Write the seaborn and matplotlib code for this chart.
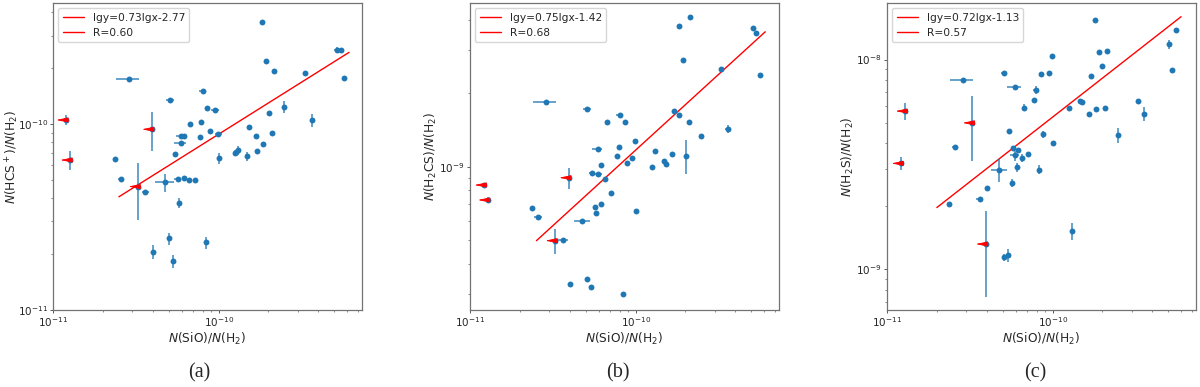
import numpy as np
import pandas as pd
import matplotlib
matplotlib.use("Agg")
import matplotlib.pyplot as plt
from matplotlib.patches import FancyArrowPatch
import seaborn as sns

# N(SiO)/N(H2) vs three sulphur species
x_a = [1.20e-11, 1.27e-11, 2.36e-11, 2.56e-11, 2.86e-11, 3.27e-11, 3.61e-11, 3.95e-11, 4.00e-11, 4.75e-11,
       5.09e-11, 5.05e-11, 5.33e-11, 5.46e-11, 5.67e-11, 5.73e-11, 5.89e-11, 5.89e-11, 6.20e-11, 6.20e-11,
       6.60e-11, 6.76e-11, 7.16e-11, 7.74e-11, 7.88e-11, 8.00e-11, 8.34e-11, 8.57e-11, 8.85e-11, 9.54e-11,
       9.95e-11, 1.00e-10, 1.25e-10, 1.28e-10, 1.31e-10, 1.49e-10, 1.53e-10, 1.68e-10, 1.71e-10, 1.84e-10,
       1.86e-10, 1.94e-10, 2.02e-10, 2.09e-10, 2.16e-10, 2.50e-10, 3.32e-10, 3.65e-10, 5.16e-10, 5.46e-10,
       5.73e-10]
y_a = [1.055e-10, 6.42e-11, 6.48e-11, 5.06e-11, 1.75e-10, 4.62e-11, 4.33e-11, 9.4e-11, 2.06e-11, 4.87e-11,
       1.35e-10, 2.43e-11, 1.83e-11, 6.92e-11, 5.08e-11, 3.76e-11, 8.65e-11, 7.96e-11, 8.65e-11, 5.16e-11,
       5.03e-11, 1.0e-10, 5.01e-11, 8.55e-11, 1.03e-10, 1.52e-10, 2.31e-11, 1.22e-10, 9.24e-11, 1.19e-10,
       8.87e-11, 6.56e-11, 7.01e-11, 7.12e-11, 7.27e-11, 6.72e-11, 9.67e-11, 8.65e-11, 7.16e-11, 3.54e-10,
       7.83e-11, 2.19e-10, 1.156e-10, 9.02e-11, 1.94e-10, 1.245e-10, 1.88e-10, 1.055e-10, 2.51e-10, 2.51e-10,
       1.78e-10]
# relative errors
xerr_a = [0, 0, 0, 0.04, 0.16, 0, 0.05, 0, 0, 0.13,
          0.05, 0, 0, 0, 0.05, 0, 0.055, 0.085, 0, 0,
          0, 0, 0, 0, 0, 0.05, 0, 0, 0, 0.05,
          0.05, 0, 0, 0, 0, 0, 0, 0, 0, 0,
          0, 0, 0, 0, 0, 0, 0, 0, 0.04, 0,
          0]
yerr_a = [0.065, 0.12, 0, 0, 0, 0.34, 0, 0.24, 0.085, 0.11,
          0, 0.075, 0.075, 0, 0, 0.06, 0, 0, 0, 0,
          0, 0, 0, 0, 0, 0, 0.075, 0, 0, 0,
          0, 0.065, 0, 0, 0.05, 0.06, 0, 0, 0, 0,
          0, 0, 0, 0, 0, 0.075, 0, 0.08, 0.04, 0,
          0]

x_b = [1.22e-11, 1.28e-11, 2.37e-11, 2.58e-11, 2.87e-11, 3.27e-11, 3.63e-11, 3.96e-11, 4.02e-11, 4.77e-11,
       5.09e-11, 5.09e-11, 5.38e-11, 5.46e-11, 5.69e-11, 5.77e-11, 5.90e-11, 5.90e-11, 6.18e-11, 6.18e-11,
       6.56e-11, 6.75e-11, 7.13e-11, 7.72e-11, 7.91e-11, 8.00e-11, 8.35e-11, 8.59e-11, 8.83e-11, 9.55e-11,
       9.90e-11, 1.00e-10, 1.25e-10, 1.31e-10, 1.48e-10, 1.52e-10, 1.67e-10, 1.71e-10, 1.82e-10, 1.84e-10,
       1.93e-10, 2.01e-10, 2.09e-10, 2.14e-10, 2.49e-10, 3.30e-10, 3.61e-10, 5.12e-10, 5.36e-10, 5.61e-10]
y_b = [8.41e-10, 7.30e-10, 6.79e-10, 6.21e-10, 1.85e-9, 4.97e-10, 5.00e-10, 9.01e-10, 3.31e-10, 6.00e-10,
       3.45e-10, 1.73e-9, 3.21e-10, 9.45e-10, 6.86e-10, 6.47e-10, 1.18e-9, 9.30e-10, 1.02e-9, 7.03e-10,
       8.89e-10, 1.53e-9, 7.78e-10, 1.11e-9, 1.205e-9, 1.63e-9, 3.00e-10, 1.52e-9, 1.04e-9, 1.09e-9,
       1.27e-9, 6.59e-10, 1.00e-9, 1.16e-9, 1.06e-9, 1.03e-9, 1.13e-9, 1.69e-9, 3.79e-9, 1.63e-9,
       2.75e-9, 1.106e-9, 1.53e-9, 4.10e-9, 1.34e-9, 2.51e-9, 1.43e-9, 3.72e-9, 3.54e-9, 2.39e-9]
xerr_b = [0, 0, 0, 0.05, 0.16, 0, 0.07, 0, 0, 0.115,
          0, 0.05, 0, 0.04, 0, 0, 0.07, 0.07, 0, 0,
          0, 0, 0, 0, 0, 0.05, 0, 0, 0, 0,
          0, 0, 0, 0, 0, 0, 0, 0, 0, 0,
          0, 0, 0, 0, 0, 0, 0.04, 0, 0, 0]
yerr_b = [0, 0.03, 0, 0, 0, 0.12, 0, 0.1, 0, 0,
          0, 0, 0, 0, 0, 0, 0, 0, 0, 0,
          0, 0, 0, 0, 0, 0, 0, 0, 0, 0,
          0, 0, 0, 0, 0, 0, 0, 0, 0, 0,
          0, 0.16, 0, 0, 0, 0, 0.04, 0, 0, 0]

x_c = [1.22e-11, 1.29e-11, 2.37e-11, 2.57e-11, 2.87e-11, 3.28e-11, 3.63e-11, 3.94e-11, 4.00e-11, 4.76e-11,
       5.08e-11, 5.08e-11, 5.37e-11, 5.44e-11, 5.65e-11, 5.73e-11, 5.89e-11, 5.89e-11, 6.14e-11, 6.17e-11,
       6.55e-11, 6.73e-11, 7.11e-11, 7.69e-11, 7.90e-11, 8.32e-11, 8.51e-11, 8.79e-11, 9.50e-11, 9.86e-11,
       1.00e-10, 1.25e-10, 1.31e-10, 1.47e-10, 1.51e-10, 1.66e-10, 1.70e-10, 1.81e-10, 1.84e-10, 1.91e-10,
       2.00e-10, 2.07e-10, 2.13e-10, 2.47e-10, 3.27e-10, 3.58e-10, 5.08e-10, 5.30e-10, 5.55e-10]
y_c = [3.20e-9, 5.68e-9, 2.04e-9, 3.84e-9, 7.98e-9, 4.99e-9, 2.17e-9, 1.32e-9, 2.43e-9, 2.99e-9,
       8.65e-9, 1.14e-9, 1.17e-9, 4.56e-9, 2.58e-9, 3.78e-9, 7.36e-9, 3.49e-9, 3.06e-9, 3.70e-9,
       3.39e-9, 5.89e-9, 3.56e-9, 6.40e-9, 7.18e-9, 2.99e-9, 8.51e-9, 4.40e-9, 8.61e-9, 1.04e-8,
       4.00e-9, 5.89e-9, 1.52e-9, 6.35e-9, 6.26e-9, 5.51e-9, 8.34e-9, 1.55e-8, 5.78e-9, 1.09e-8,
       9.29e-9, 5.89e-9, 1.10e-8, 4.37e-9, 6.35e-9, 5.51e-9, 1.18e-8, 8.95e-9, 1.39e-8]
xerr_c = [0, 0, 0, 0.045, 0.16, 0, 0.045, 0, 0, 0.11,
          0.045, 0, 0, 0, 0, 0, 0.095, 0.065, 0, 0,
          0, 0, 0, 0, 0.04, 0, 0, 0, 0, 0,
          0, 0, 0, 0, 0, 0, 0, 0, 0, 0,
          0, 0, 0, 0, 0, 0, 0.04, 0, 0]
yerr_c = [0.075, 0.095, 0, 0, 0, 0.34, 0, 0.44, 0, 0.125,
          0, 0.04, 0.07, 0, 0.04, 0, 0, 0.055, 0.05, 0,
          0.045, 0.04, 0, 0, 0.045, 0.05, 0, 0.04, 0, 0,
          0, 0, 0.09, 0, 0, 0, 0, 0, 0, 0,
          0, 0, 0, 0.08, 0, 0.075, 0.05, 0, 0]

# points that are upper limits in N(SiO)
upper_idx = [0, 1, 5, 7]

# fitted lines as drawn (end points)
line_a_x = [2.50e-11, 6.14e-10]
line_a_y = [4.07e-11, 2.44e-10]
line_b_x = [2.52e-11, 6.07e-10]
line_b_y = [4.97e-10, 3.58e-9]
line_c_x = [2.0e-11, 5.97e-10]
line_c_y = [1.97e-9, 1.60e-8]

fit_labels = ["lgy=0.73lgx-2.77", "lgy=0.75lgx-1.42", "lgy=0.72lgx-1.13"]
r_labels = ["R=0.60", "R=0.68", "R=0.57"]
ylabels = [r"$N$(HCS$^+$)/$N$(H$_2$)", r"$N$(H$_2$CS)/$N$(H$_2$)", r"$N$(H$_2$S)/$N$(H$_2$)"]
tags = ["(a)", "(b)", "(c)"]
ylims = [(1e-11, 4.5e-10), (2.58e-10, 4.7e-9), (6.4e-10, 1.86e-8)]
xlim = (1e-11, 7.35e-10)
xticks = [1e-11, 1e-10]
yticks = [[1e-11, 1e-10], [1e-9], [1e-9, 1e-8]]

sns.set_style("ticks")
plt.rcParams['font.family'] = ['DejaVu Sans']

blue = '#1f77b4'
fig = plt.figure(figsize=(12, 3.87), dpi=100)
lefts = [53, 470, 887]
tag_x = [199, 618, 1035]
ylab_x = [-0.105, -0.100, -0.100]

panels = [(x_a, y_a, xerr_a, yerr_a, line_a_x, line_a_y),
          (x_b, y_b, xerr_b, yerr_b, line_b_x, line_b_y),
          (x_c, y_c, xerr_c, yerr_c, line_c_x, line_c_y)]

for i, (xs, ys, xe, ye, lx, ly) in enumerate(panels):
    ax = fig.add_axes([lefts[i] / 1200, 77 / 387, 309 / 1200, 307 / 387])
    xs = np.array(xs)
    ys = np.array(ys)
    df = pd.DataFrame({'x': xs, 'y': ys})

    # fit line + R entry for legend
    ax.plot(lx, ly, color='red', lw=1, label=fit_labels[i])
    ax.plot([], [], color='red', lw=1, label=r_labels[i])

    ax.errorbar(xs, ys, xerr=xs * np.array(xe), yerr=ys * np.array(ye), fmt='none',
                ecolor=blue, elinewidth=1.2, alpha=0.8, capsize=0, zorder=2)
    sns.scatterplot(data=df, x='x', y='y', ax=ax, color=blue, s=18, linewidth=0, zorder=3)

    # upper limit arrows pointing left
    for k in upper_idx:
        arr = FancyArrowPatch((xs[k], ys[k]), (xs[k] * 10 ** -0.06, ys[k]),
                              arrowstyle='-|>,head_length=1.2,head_width=0.25', color='red',
                              lw=0.6, shrinkA=0, shrinkB=0, mutation_scale=6, zorder=4)
        ax.add_patch(arr)

    ax.set_xscale('log')
    ax.set_yscale('log')
    ax.set_xticks(xticks)
    ax.set_yticks(yticks[i])
    ax.set_xlim(*xlim)
    ax.set_ylim(*ylims[i])
    ax.set_xlabel(r"$N$(SiO)/$N$(H$_2$)", fontsize=8.8, labelpad=1.5)
    ax.set_ylabel(ylabels[i], fontsize=8.8)
    ax.yaxis.set_label_coords(ylab_x[i], 0.5)
    ax.tick_params(axis='both', which='major', labelsize=7.5, color='0.35', length=2.4, width=0.7, pad=1.2)
    ax.tick_params(axis='both', which='minor', color='0.35', length=1.5, width=0.5)
    for sp in ax.spines.values():
        sp.set_color('0.45')
        sp.set_linewidth(0.9)
    ax.legend(loc='upper left', fontsize=7.7, frameon=True)

    fig.text(tag_x[i] / 1200, 1 - 373 / 387, tags[i], ha='center', va='center',
             fontsize=14.5, family='Liberation Serif')

fig.savefig('out.png', dpi=100)
